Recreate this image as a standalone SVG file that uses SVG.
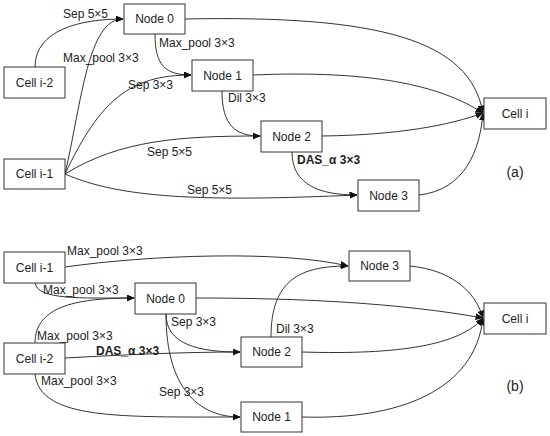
<svg xmlns="http://www.w3.org/2000/svg" width="550" height="436" viewBox="0 0 550 436">
<style>
.n rect{fill:#fff;stroke:#333;stroke-width:1}
text{font-family:"Liberation Sans",Arial,sans-serif;font-size:12px;fill:#222}
.c{text-anchor:middle}
.b{font-weight:bold}
#edges path{fill:none;stroke:#333;stroke-width:1;marker-end:url(#ah)}
</style>
<defs>
<marker id="ah" markerWidth="8" markerHeight="7" refX="7.5" refY="3.5" orient="auto" markerUnits="userSpaceOnUse">
<path d="M0,0 L8,3.5 L0,7 Z" fill="#111"/>
</marker>
</defs>
<rect width="550" height="436" fill="#fff"/>
<g id="edges">
<!-- (a) -->
<path d="M35,67 C35,30 80,19 123,19"/>
<path d="M65,174 C82,100 88,19 123,19"/>
<path d="M65,174 C100,100 130,75 191,75"/>
<path d="M155,34 C155,65 165,75 191,75"/>
<path d="M185,19 C380,15 470,40 483,113"/>
<path d="M253,75 C370,70 440,85 483,113"/>
<path d="M322,136 C400,135 450,125 483,113"/>
<path d="M419,195 C465,190 480,150 483,113"/>
<path d="M222,91 C222,125 235,136 260,136"/>
<path d="M65,174 C120,140 180,136 260,136"/>
<path d="M65,174 C120,198 200,202 357,195"/>
<path d="M292,152 C292,185 320,195 357,195"/>
<!-- (b) -->
<path d="M65,267 C150,255 280,250 348,266"/>
<path d="M35,283 C38,300 80,298 134,298"/>
<path d="M35,343 C35,305 80,298 134,298"/>
<path d="M65,358 C120,355 180,352 240,352"/>
<path d="M35,374 C40,420 120,417 240,417"/>
<path d="M166,314 C166,345 200,352 240,352"/>
<path d="M166,314 C166,390 200,417 240,417"/>
<path d="M271,337 C271,280 300,266 348,266"/>
<path d="M196,298 C300,298 400,303 483,318"/>
<path d="M302,352 C400,355 460,345 483,318"/>
<path d="M302,417 C400,420 475,390 483,318"/>
<path d="M410,266 C450,270 475,290 483,318"/>
</g>
<g id="labels">
<text x="63" y="18">Sep 5×5</text>
<text x="63" y="62">Max_pool 3×3</text>
<text x="128" y="89">Sep 3×3</text>
<text x="159" y="47">Max_pool 3×3</text>
<text x="228" y="102">Dil 3×3</text>
<text x="147" y="156">Sep 5×5</text>
<text x="187" y="194">Sep 5×5</text>
<text x="297" y="164" class="b">DAS_α 3×3</text>
<text x="515" y="177" class="c" style="font-size:14px">(a)</text>
<text x="67" y="255">Max_pool 3×3</text>
<text x="43" y="294">Max_pool 3×3</text>
<text x="37" y="340">Max_pool 3×3</text>
<text x="96" y="355" class="b">DAS_α 3×3</text>
<text x="41" y="385">Max_pool 3×3</text>
<text x="171" y="326">Sep 3×3</text>
<text x="159" y="396">Sep 3×3</text>
<text x="276" y="333">Dil 3×3</text>
<text x="515" y="391" class="c" style="font-size:14px">(b)</text>
</g>
<g id="a_cell_i2" class="n"><rect x="4" y="67" width="61" height="31"/><text x="34.5" y="87" class="c">Cell i-2</text></g>
<g id="a_cell_i1" class="n"><rect x="4" y="159" width="61" height="30"/><text x="34.5" y="178" class="c">Cell i-1</text></g>
<g id="a_node0" class="n"><rect x="124" y="4" width="61" height="30"/><text x="154.5" y="23" class="c">Node 0</text></g>
<g id="a_node1" class="n"><rect x="192" y="60" width="61" height="31"/><text x="222.5" y="80" class="c">Node 1</text></g>
<g id="a_node2" class="n"><rect x="261" y="121" width="61" height="31"/><text x="291.5" y="141" class="c">Node 2</text></g>
<g id="a_node3" class="n"><rect x="358" y="180" width="61" height="31"/><text x="388.5" y="200" class="c">Node 3</text></g>
<g id="a_cell_i" class="n"><rect x="484" y="98" width="62" height="31"/><text x="515" y="118" class="c">Cell i</text></g>
<g id="b_cell_i1" class="n"><rect x="4" y="252" width="61" height="31"/><text x="34.5" y="272" class="c">Cell i-1</text></g>
<g id="b_cell_i2" class="n"><rect x="4" y="343" width="61" height="31"/><text x="34.5" y="363" class="c">Cell i-2</text></g>
<g id="b_node0" class="n"><rect x="135" y="283" width="61" height="31"/><text x="165.5" y="303" class="c">Node 0</text></g>
<g id="b_node2" class="n"><rect x="241" y="337" width="61" height="30"/><text x="271.5" y="356" class="c">Node 2</text></g>
<g id="b_node1" class="n"><rect x="241" y="402" width="61" height="30"/><text x="271.5" y="421" class="c">Node 1</text></g>
<g id="b_node3" class="n"><rect x="349" y="251" width="61" height="30"/><text x="379.5" y="270" class="c">Node 3</text></g>
<g id="b_cell_i" class="n"><rect x="484" y="303" width="62" height="31"/><text x="515" y="323" class="c">Cell i</text></g>
</svg>
